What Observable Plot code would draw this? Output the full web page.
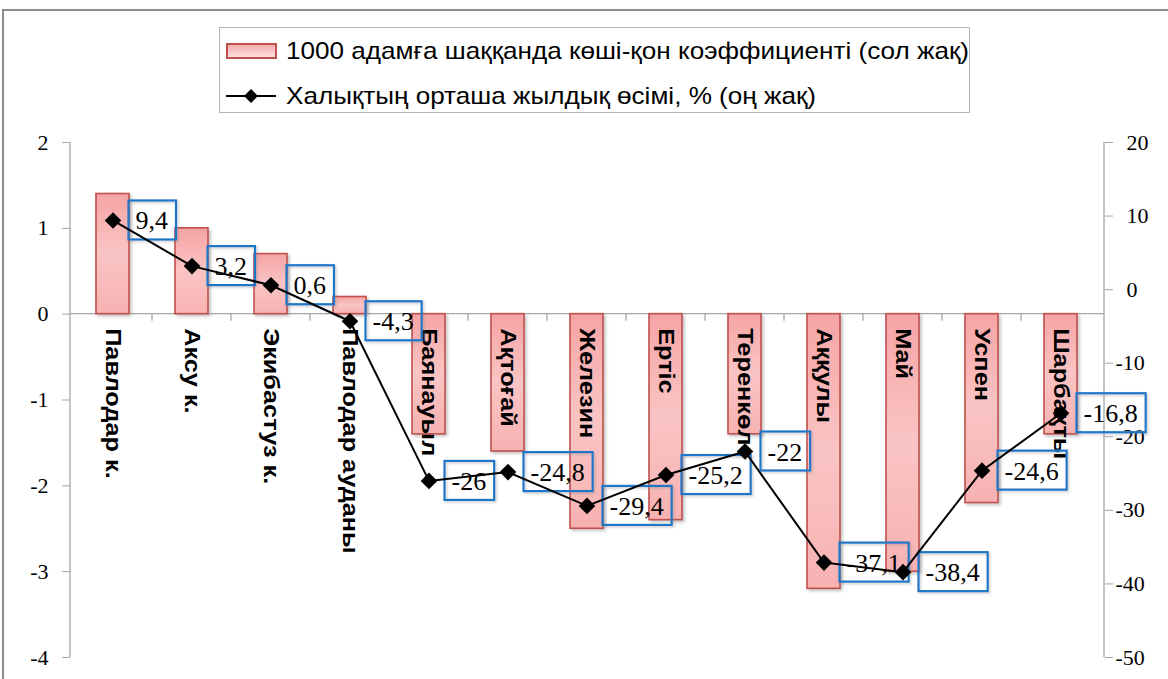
<!DOCTYPE html>
<html>
<head>
<meta charset="utf-8">
<script src="https://cdn.jsdelivr.net/npm/d3@7"></script>
<script src="https://cdn.jsdelivr.net/npm/@observablehq/plot@0.6"></script>
<style>
  html, body { margin: 0; padding: 0; background: #fff; width: 1168px; height: 679px; overflow: hidden; }
  #page { position: relative; width: 1168px; height: 679px; }
  #frame { position: absolute; left: 2px; top: 9px; width: 1200px; height: 720px; border: 2px solid #8c8c8c; box-sizing: border-box; pointer-events: none; }
  #header { position: relative; height: 130px; }
  #legend { position: absolute; left: 219px; top: 27px; width: 751px; height: 86px; border: 1px solid #b4b4b4; box-sizing: border-box; background: #fff; font-family: "Liberation Sans", Arial, sans-serif; font-size: 24px; color: #000; }
  .row { position: absolute; left: 0; height: 40px; width: 100%; }
  .row svg { position: absolute; left: 6px; top: 0; }
  .row span { position: absolute; left: 66px; top: 50%; transform-origin: 0 50%; white-space: nowrap; line-height: 1; }
  #chart svg g[aria-label="bar"] rect { filter: url(#barShadow); }
</style>
</head>
<body>
<div id="page">
  <div id="header">
    <div id="legend">
      <div class="row" style="top:3px">
        <svg width="52" height="40"><rect x="1" y="13" width="49" height="14" fill="url(#legGrad)" stroke="#c0504d" stroke-width="2"/>
          <defs><linearGradient id="legGrad" x1="0" y1="0" x2="0" y2="1"><stop offset="0" stop-color="#f7aaaa"/><stop offset="1" stop-color="#fde2e2"/></linearGradient></defs></svg>
        <span id="leg1">1000 адамға шаққанда көші-қон коэффициенті (сол жақ)</span>
      </div>
      <div class="row" style="top:48px">
        <svg width="52" height="40"><line x1="0" y1="20" x2="50" y2="20" stroke="#000" stroke-width="2"/><path d="M25,13 L32,20 L25,27 L18,20 Z" fill="#000"/></svg>
        <span id="leg2">Халықтың орташа жылдық өсімі, % (оң жақ)</span>
      </div>
    </div>
  </div>
  <div id="chart"></div>
  <div id="frame"></div>
</div>
<script>
// ---- data ----
const categories = ["Павлодар к.", "Аксу к.", "Экибастуз к.", "Павлодар ауданы", "Баянауыл", "Ақтоғай", "Железин", "Ертіс", "Теренкөл", "Аққулы", "Май", "Успен", "Шарбақты"];
const migration = [1.4, 1.0, 0.7, 0.2, -1.4, -1.6, -2.5, -2.4, -1.4, -3.2, -3.0, -2.2, -1.4];
const growth = [9.4, 3.2, 0.6, -4.3, -26, -24.8, -29.4, -25.2, -22, -37.1, -38.4, -24.6, -16.8];
const leftTicks = [-4, -3, -2, -1, 0, 1, 2];
const rightTicks = [-50, -40, -30, -20, -10, 0, 10, 20];
const leftDomain = [-4, 2];
const rightDomain = [-50, 20];

const k = (leftDomain[1] - leftDomain[0]) / (rightDomain[1] - rightDomain[0]);
const toLeft = v => leftDomain[0] + (v - rightDomain[0]) * k;
const fromLeft = l => rightDomain[0] + (l - leftDomain[0]) / k;

const data = categories.map((c, i) => ({
  c, m: migration[i], g: growth[i], gl: toLeft(growth[i]),
  label: String(growth[i]).replace(".", ",")
}));

const ctx = document.createElement("canvas").getContext("2d");
function measure(text, font) { ctx.font = font; return ctx.measureText(text).width; }

// fit legend texts
const legFont = '24px "Liberation Sans"';
const fit1 = 683 / measure(document.getElementById("leg1").textContent, legFont);
const fit2 = 530 / measure(document.getElementById("leg2").textContent, legFont);
document.getElementById("leg1").style.transform = `translateY(-50%) scaleX(${fit1})`;
document.getElementById("leg2").style.transform = `translateY(-50%) scaleX(${fit2})`;

const NS = "http://www.w3.org/2000/svg";
function el(name, attrs) {
  const e = document.createElementNS(NS, name);
  for (const [a, v] of Object.entries(attrs)) e.setAttribute(a, v);
  return e;
}

// defs (gradient + shadow)
function defsMark() {
  const g = el("g", {});
  const defs = el("defs", {});
  const lg = el("linearGradient", {id: "barGrad", x1: 0, y1: 0, x2: 0, y2: 1});
  lg.appendChild(el("stop", {offset: "0", "stop-color": "#f6a4a4"}));
  lg.appendChild(el("stop", {offset: "0.5", "stop-color": "#fac4c4"}));
  lg.appendChild(el("stop", {offset: "1", "stop-color": "#f7b2b2"}));
  defs.appendChild(lg);
  const f = el("filter", {id: "barShadow", x: "-20%", y: "-20%", width: "150%", height: "150%"});
  f.appendChild(el("feDropShadow", {dx: 2, dy: 2, stdDeviation: 1.5, "flood-color": "#808080", "flood-opacity": 0.45}));
  defs.appendChild(f);
  const f2 = el("filter", {id: "boxShadow", x: "-20%", y: "-30%", width: "150%", height: "170%"});
  f2.appendChild(el("feDropShadow", {dx: 1.5, dy: 1.5, stdDeviation: 1, "flood-color": "#808080", "flood-opacity": 0.4}));
  defs.appendChild(f2);
  g.appendChild(defs);
  return g;
}

// axis lines and category boundary ticks
function frameLines(index, scales, values, dimensions) {
  const g = el("g", {stroke: "#a6a6a6", "stroke-width": 1.3});
  const {width, marginLeft, marginRight} = dimensions;
  const x0 = marginLeft, x1 = width - marginRight;
  const yt = scales.y(leftDomain[1]), yb = scales.y(leftDomain[0]);
  g.appendChild(el("line", {x1: x0, x2: x0, y1: yt, y2: yb}));
  g.appendChild(el("line", {x1: x1, x2: x1, y1: yt, y2: yb}));
  const y0 = scales.y(0);
  g.appendChild(el("line", {x1: x0, x2: x1, y1: y0, y2: y0}));
  const step = scales.x.step();
  categories.slice(1).forEach(c => {
    const xb = scales.x(c) + scales.x.bandwidth() / 2 - step / 2;
    g.appendChild(el("line", {x1: xb, x2: xb, y1: y0, y2: y0 + 7}));
  });
  return g;
}

// boxed value labels
function valueLabels(index, scales) {
  const g = el("g", {"text-anchor": "start"});
  const font = '26px "Liberation Serif"';
  const bw = scales.x.bandwidth();
  data.forEach(d => {
    const cx = scales.x(d.c) + bw / 2;
    const cy = scales.y(d.gl);
    const tw = measure(d.label, font);
    const bx = cx + 16;
    g.appendChild(el("rect", {x: bx, y: cy - 19.5, width: tw + 15, height: 39, fill: "none", stroke: "#1f77c9", "stroke-width": 2.2, filter: "url(#boxShadow)"}));
    const t = el("text", {x: bx + 7, y: cy + 1, "text-anchor": "start", "dominant-baseline": "central", "font-family": "Liberation Serif, Times New Roman, serif", "font-size": 26, fill: "#000"});
    t.textContent = d.label;
    g.appendChild(t);
  });
  return g;
}

const chart = Plot.plot({
  width: 1168,
  height: 549,
  marginLeft: 70,
  marginRight: 64,
  marginTop: 12,
  marginBottom: 22,
  style: {background: "transparent", fontFamily: "'Liberation Serif', 'Times New Roman', serif", fontSize: "22px", color: "#000", overflow: "visible"},
  x: {type: "band", domain: categories, paddingInner: 0.58, paddingOuter: 0.29, axis: null},
  y: {domain: leftDomain, axis: null},
  marks: [
    defsMark,
    frameLines,
    Plot.axisY(leftTicks, {anchor: "left", tickSize: 8, tickPadding: 14, stroke: "#a6a6a6", fill: "#000", tickFormat: d => String(d), label: null}),
    Plot.axisY(rightTicks.map(toLeft), {anchor: "right", tickSize: 8, tickPadding: 3, stroke: "#a6a6a6", fill: "#000", label: null,
      tickFormat: d => { const v = Math.round(fromLeft(d)); return v >= 0 ? "\u00a0\u00a0" + v : String(v); }}),
    Plot.barY(data, {x: "c", y: "m", fill: "url(#barGrad)", stroke: "#c0504d", strokeWidth: 1.6}),
    Plot.text(data, {x: "c", y: 0, text: "c", rotate: 90, textAnchor: "start", lineAnchor: "middle", dy: 14,
      fontFamily: "'Liberation Sans', Arial, sans-serif", fontSize: 22, fontWeight: "bold", fill: "#000"}),
    valueLabels,
    Plot.line(data, {x: "c", y: "gl", stroke: "#000", strokeWidth: 2}),
    Plot.dot(data, {x: "c", y: "gl", symbol: "diamond2", r: 7.5, fill: "#000", stroke: "none"})
  ]
});
document.getElementById("chart").appendChild(chart);

// stretch the rotated category labels along their length, as in the original
chart.querySelectorAll('g[aria-label="text"] text').forEach(t => {
  const w = measure(t.textContent, 'bold 22px "Liberation Sans"');
  t.setAttribute("textLength", (w * 1.15).toFixed(1));
  t.setAttribute("lengthAdjust", "spacingAndGlyphs");
});
</script>
</body>
</html>
